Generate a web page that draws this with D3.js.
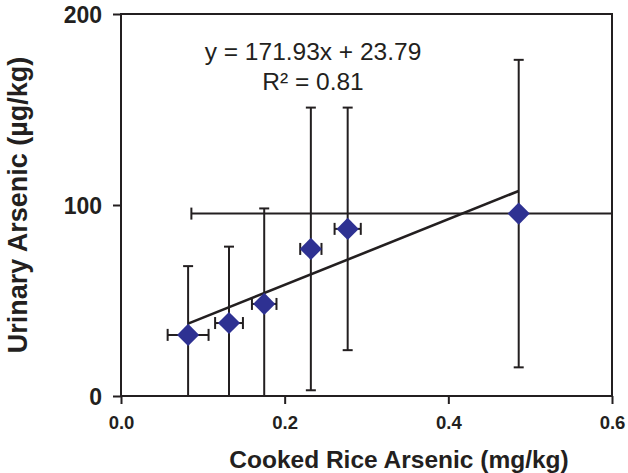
<!DOCTYPE html>
<html>
<head>
<meta charset="utf-8">
<script src="https://cdn.jsdelivr.net/npm/d3@7"></script>
<style>
  body { margin: 0; background: #fff; }
  text { font-family: "Liberation Sans", Arial, sans-serif; fill: #231f20; }
</style>
</head>
<body>
<svg id="chart"></svg>
<script>
// values
var riceAs = [0.082, 0.132, 0.175, 0.232, 0.277, 0.486];
var riceErr = [0.025, 0.017, 0.015, 0.013, 0.016, 0.40];
var urineAs = [32, 38.2, 48.2, 77, 87.5, 95.5];
var urineErr = [36, 40, 50, 74, 63.5, 80.5];
var xTicks = [0, 0.2, 0.4, 0.6];
var yTicks = [0, 100, 200];
var slope = 171.93, intercept = 23.79;
var eqLabels = ["y = 171.93x + 23.79", "R\u00b2 = 0.81"];

var width = 628, height = 473;
var plotL = 121, plotR = 612, plotT = 14, plotB = 396;
var ink = "#231f20";

var x = d3.scaleLinear().domain([0, 0.6]).range([plotL, plotR]);
var y = d3.scaleLinear().domain([0, 200]).range([plotB, plotT]);

var svg = d3.select("#chart").attr("width", width).attr("height", height);

svg.append("defs").append("clipPath").attr("id", "plot")
  .append("rect")
    .attr("x", plotL).attr("y", plotT)
    .attr("width", plotR - plotL).attr("height", plotB - plotT);

var points = riceAs.map((v, i) => ({x: v, xe: riceErr[i], y: urineAs[i], ye: urineErr[i]}));

var bars = svg.append("g")
    .attr("clip-path", "url(#plot)")
    .attr("stroke", ink)
    .attr("stroke-width", 2);

var cap = 5;
points.forEach(d => {
  // vertical error bar
  bars.append("line")
    .attr("x1", x(d.x)).attr("x2", x(d.x))
    .attr("y1", y(d.y - d.ye)).attr("y2", y(d.y + d.ye));
  [d.y - d.ye, d.y + d.ye].forEach(v => {
    bars.append("line")
      .attr("x1", x(d.x) - cap).attr("x2", x(d.x) + cap)
      .attr("y1", y(v)).attr("y2", y(v));
  });
  // horizontal error bar
  bars.append("line")
    .attr("x1", x(d.x - d.xe)).attr("x2", x(d.x + d.xe))
    .attr("y1", y(d.y)).attr("y2", y(d.y));
  [d.x - d.xe, d.x + d.xe].forEach(v => {
    bars.append("line")
      .attr("x1", x(v)).attr("x2", x(v))
      .attr("y1", y(d.y) - cap - 1).attr("y2", y(d.y) + cap + 1);
  });
});

// trend line
var x0 = d3.min(riceAs), x1 = d3.max(riceAs);
svg.append("line")
    .attr("x1", x(x0)).attr("y1", y(slope * x0 + intercept))
    .attr("x2", x(x1)).attr("y2", y(slope * x1 + intercept))
    .attr("stroke", ink)
    .attr("stroke-width", 2.6);

svg.append("g")
  .selectAll("path")
  .data(points)
  .enter()
  .append("path")
    .attr("d", d3.symbol(d3.symbolSquare, 245))
    .attr("transform", d => `translate(${x(d.x)},${y(d.y)}) rotate(45)`)
    .attr("fill", "#2e3192");

// frame
svg.append("rect")
    .attr("x", plotL).attr("y", plotT)
    .attr("width", plotR - plotL).attr("height", plotB - plotT)
    .attr("fill", "none")
    .attr("stroke", ink)
    .attr("stroke-width", 2);

var xAxis = svg.append("g")
    .attr("transform", `translate(0,${plotB})`)
    .call(d3.axisBottom(x).tickValues(xTicks).tickFormat(d3.format(".1f")).tickSizeOuter(0).tickSize(8).tickPadding(12));

var yAxis = svg.append("g")
    .attr("transform", `translate(${plotL},0)`)
    .call(d3.axisLeft(y).tickValues(yTicks).tickFormat(d3.format("d")).tickSizeOuter(0).tickSize(8).tickPadding(11));

[xAxis, yAxis].forEach(g => {
  g.select(".domain").remove();
  g.selectAll(".tick line").attr("stroke", ink).attr("stroke-width", 2);
  g.selectAll("text").attr("fill", ink).style("font-weight", "bold")
    .style("font-family", "'Liberation Sans', Arial, sans-serif");
});
xAxis.selectAll("text").style("font-size", "18.5px");
yAxis.selectAll("text").style("font-size", "23px").attr("dy", "0.36em");

// axis titles
svg.append("text")
    .attr("x", 399).attr("y", 468)
    .attr("text-anchor", "middle")
    .style("font-size", "24.5px").style("font-weight", "bold")
    .text("Cooked Rice Arsenic (mg/kg)");

svg.append("text")
    .attr("transform", "translate(27,205) rotate(-90)")
    .attr("text-anchor", "middle")
    .style("font-size", "27px").style("font-weight", "bold")
    .text("Urinary Arsenic (\u00b5g/kg)");

// regression label
svg.selectAll(".eq")
  .data(eqLabels)
  .enter()
  .append("text")
    .classed("eq", true)
    .attr("x", 313)
    .attr("y", (d, i) => 60 + i * 30)
    .attr("text-anchor", "middle")
    .style("font-size", "24.5px")
    .text(d => d);
</script>
</body>
</html>
